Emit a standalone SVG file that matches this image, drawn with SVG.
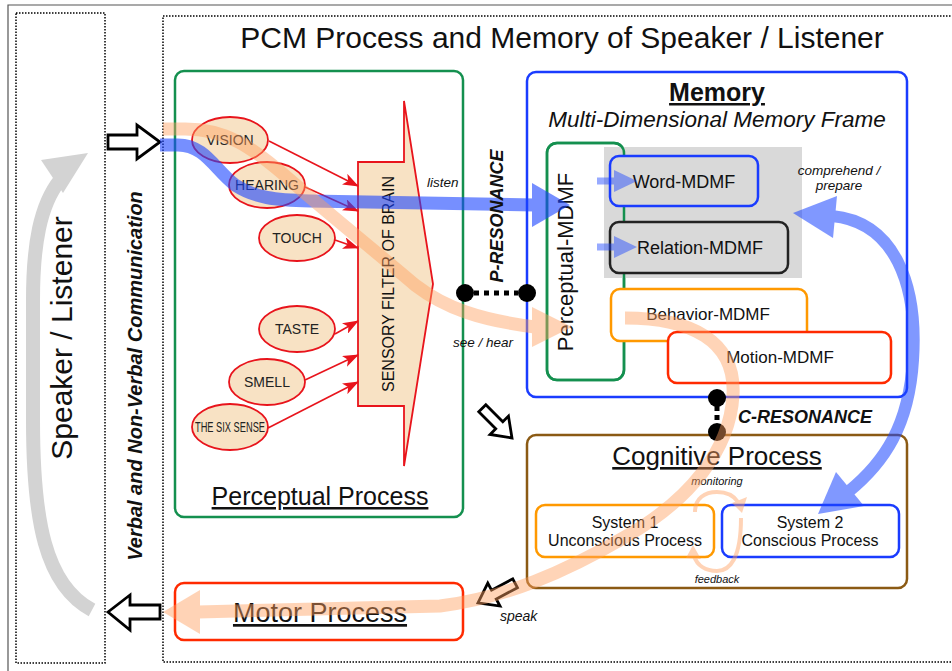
<svg xmlns="http://www.w3.org/2000/svg" width="952" height="671" viewBox="0 0 952 671">
<defs>
<style>
text{font-family:"Liberation Sans",Arial,sans-serif;fill:#111}
.box{fill:#fff;stroke-width:2.5}
.ell{fill:#f8e2c4;stroke:#e8141c;stroke-width:1.8}
.et{font-size:14px;text-anchor:middle;fill:#222}
.it{font-style:italic}
.red{stroke:#e8141c;stroke-width:1.6;fill:none;marker-end:url(#rh)}
.open{fill:#fff;stroke:#000;stroke-width:2.8;stroke-linejoin:miter}
.dotted{fill:none;stroke:#000;stroke-width:1.5;stroke-dasharray:1.5,1.5}
</style>
<marker id="rh" markerUnits="userSpaceOnUse" markerWidth="16" markerHeight="12" refX="15" refY="6" orient="auto">
<path d="M0,0 L16,6 L0,12 L4,6 z" fill="#e8141c"/>
</marker>
</defs>
<rect width="952" height="671" fill="#fff"/>
<!-- outer frame -->
<path d="M8,671 L8,5 L952,5" fill="none" stroke="#555" stroke-width="1.2"/>
<rect class="dotted" x="16" y="13" width="89" height="650"/>
<rect class="dotted" x="163" y="16" width="800" height="646"/>

<text x="562" y="48" font-size="30" text-anchor="middle">PCM Process and Memory of Speaker / Listener</text>

<!-- left side -->
<g id="speaker-listener">
<g fill="#d3d3d3">
<path d="M92,610 C 45,585 33,520 33,420 L 33,300 C 33,245 40,205 60,180" fill="none" stroke="#d3d3d3" stroke-width="14"/>
<polygon points="88,153 41,160 63,193"/>
</g>
<text transform="translate(72,338) rotate(-90)" font-size="30" text-anchor="middle">Speaker / Listener</text>
</g>
<text id="comm-label" transform="translate(142,376) rotate(-90)" font-size="20" font-weight="bold" font-style="italic" text-anchor="middle">Verbal and Non-Verbal Communication</text>

<!-- Perceptual process -->
<g id="perceptual-process">
<rect class="box" x="175" y="71" width="288" height="446" rx="9" stroke="#14904f"/>
<text x="320" y="505" font-size="25" text-anchor="middle" text-decoration="underline">Perceptual Process</text>
</g>
<g id="sensory-filter">
<polygon points="358,162 404,162 404,101 433,284 404,466 404,406 358,406" fill="#f8e2c4" stroke="#e8141c" stroke-width="1.8"/>
<text transform="translate(394,284) rotate(-90)" font-size="16" text-anchor="middle" fill="#222">SENSORY FILTER OF BRAIN</text>
</g>
<g id="vision"><ellipse class="ell" cx="230" cy="140" rx="38" ry="23"/><text class="et" x="230" y="145">VISION</text></g>
<g id="hearing"><ellipse class="ell" cx="267" cy="185" rx="38" ry="23"/><text class="et" x="267" y="190">HEARING</text></g>
<g id="touch"><ellipse class="ell" cx="297" cy="238" rx="38" ry="23"/><text class="et" x="297" y="243">TOUCH</text></g>
<g id="taste"><ellipse class="ell" cx="297" cy="329" rx="38" ry="23"/><text class="et" x="297" y="334">TASTE</text></g>
<g id="smell"><ellipse class="ell" cx="267" cy="382" rx="38" ry="23"/><text class="et" x="267" y="387">SMELL</text></g>
<g id="sixsense"><ellipse class="ell" cx="230" cy="427" rx="38" ry="23"/><text class="et" x="230" y="432" textLength="70" lengthAdjust="spacingAndGlyphs">THE SIX SENSE</text></g>

<!-- Memory -->
<g id="memory">
<rect class="box" x="527" y="72" width="380" height="325" rx="9" stroke="#1a3cff"/>
<text x="717" y="101" font-size="25" font-weight="bold" text-anchor="middle" text-decoration="underline">Memory</text>
<text x="717" y="127" font-size="22.5" font-style="italic" text-anchor="middle">Multi-Dimensional Memory Frame</text>
</g>
<g id="perceptual-mdmf">
<rect x="547" y="143" width="77" height="237" rx="10" fill="#fff" stroke="#14904f" stroke-width="2.5"/>
<rect id="gray-area" x="604" y="147" width="198" height="131" fill="#d9d9d9"/>
<rect x="547" y="143" width="77" height="237" rx="10" fill="none" stroke="#14904f" stroke-width="2.5"/>
<text transform="translate(573,262) rotate(-90)" font-size="22" text-anchor="middle">Perceptual-MDMF</text>
</g>
<g id="word-mdmf">
<rect x="610" y="156" width="148" height="50" rx="9" fill="#d9d9d9" stroke="#1a3cff" stroke-width="2.5"/>
<text x="684" y="188" font-size="18" text-anchor="middle">Word-MDMF</text>
</g>
<g id="relation-mdmf">
<rect x="610" y="222" width="178" height="51" rx="9" fill="#d9d9d9" stroke="#222" stroke-width="2.5"/>
<text x="700" y="254" font-size="18" text-anchor="middle">Relation-MDMF</text>
</g>
<g id="behavior-mdmf">
<rect class="box" x="611" y="289" width="196" height="52" rx="9" stroke="#ff9900"/>
<text x="708" y="320" font-size="17" text-anchor="middle">Behavior-MDMF</text>
</g>
<g id="motion-mdmf">
<rect class="box" x="668" y="332" width="223" height="51" rx="9" stroke="#ff2a00"/>
<text x="780" y="363" font-size="17" text-anchor="middle">Motion-MDMF</text>
</g>
<text x="839" y="175" font-size="13.5" class="it" text-anchor="middle">comprehend /</text>
<text x="839" y="190" font-size="13.5" class="it" text-anchor="middle">prepare</text>

<!-- Cognitive -->
<g id="cognitive-process">
<rect class="box" x="527" y="435" width="380" height="153" rx="9" stroke="#8b5a14"/>
<text x="717" y="465" font-size="26" text-anchor="middle" text-decoration="underline">Cognitive Process</text>
<text x="717" y="485" font-size="11" class="it" text-anchor="middle">monitoring</text>
<text x="717" y="583" font-size="11" class="it" text-anchor="middle">feedback</text>
</g>
<g id="system1">
<rect class="box" x="536" y="505" width="178" height="52" rx="9" stroke="#ff9900"/>
<text x="625" y="528" font-size="16" text-anchor="middle">System 1</text>
<text x="625" y="546" font-size="16" text-anchor="middle">Unconscious Process</text>
</g>
<g id="system2">
<rect class="box" x="722" y="505" width="177" height="52" rx="9" stroke="#1a3cff"/>
<text x="810" y="528" font-size="16" text-anchor="middle">System 2</text>
<text x="810" y="546" font-size="16" text-anchor="middle">Conscious Process</text>
</g>

<!-- Motor -->
<g id="motor-process">
<rect class="box" x="175" y="583" width="288" height="57" rx="9" stroke="#ff2a00"/>
<text x="320" y="622" font-size="27" text-anchor="middle" text-decoration="underline">Motor Process</text>
</g>

<!-- connectors -->
<g id="connectors">
<polygon class="open" points="108,135 137,135 137,125 160,142 137,159 137,149 108,149"/>
<polygon class="open" points="108,612 130,595 130,605 160,605 160,619 130,619 130,630"/>
<polygon class="open" transform="translate(512,438) rotate(45)" points="-42,-5 -18,-5 -18,-13 0,0 -18,13 -18,5 -42,5"/>
<polygon class="open" transform="translate(478,603) rotate(152)" points="-42,-5 -18,-5 -18,-13 0,0 -18,13 -18,5 -42,5"/>

<path class="red" d="M269,141 L358,186"/>
<path class="red" d="M305,187 L358,211"/>
<path class="red" d="M335,240 L358,248"/>
<path class="red" d="M335,334 L358,321"/>
<path class="red" d="M305,380 L358,355"/>
<path class="red" d="M268,428 L358,382"/>

<!-- P-resonance -->
<line x1="474" y1="293" x2="518" y2="293" stroke="#000" stroke-width="5" stroke-dasharray="5,5"/>
<circle cx="465" cy="293" r="9" fill="#000"/>
<circle cx="527" cy="293" r="9" fill="#000"/>
<!-- C-resonance -->
<line x1="717" y1="406" x2="717" y2="424" stroke="#000" stroke-width="5" stroke-dasharray="5,4"/>
<circle cx="717" cy="398" r="9" fill="#000"/>
<circle cx="717" cy="432" r="9" fill="#000"/>

<!-- blue flows -->
<g opacity="0.6" fill="#1a44ff">
<path d="M160,145 L178,145 C 205,145 215,170 235,185 C 255,198 275,200 310,201 L 535,205" fill="none" stroke="#1a44ff" stroke-width="13"/>
<polygon points="532,183 570,205 532,227"/>
</g>
<g opacity="0.45" fill="#1a44ff">
<path d="M597,181 L616,181" stroke="#1a44ff" stroke-width="7"/>
<polygon points="614,170 637,181 614,192"/>
<path d="M597,247 L616,247" stroke="#1a44ff" stroke-width="7"/>
<polygon points="614,236 637,247 614,258"/>
</g>
<g opacity="0.55" fill="#1a44ff">
<path d="M832,216 C 895,222 918,285 913,360 C 909,425 885,462 848,492" fill="none" stroke="#1a44ff" stroke-width="12"/>
<polygon points="793,213 837,196 833,238"/>
<polygon points="818,514 836,472 864,506"/>
</g>
<!-- orange flows -->
<g opacity="0.45" fill="#ffa060">
<path d="M163,129 L185,129 C 225,129 250,145 290,180 C 330,215 380,255 415,285 C 445,308 480,320 535,327" fill="none" stroke="#ffa060" stroke-width="13"/>
<polygon points="532,307 572,327 532,347"/>
</g>
<g opacity="0.45" fill="#ffa060">
<path d="M625,318 C 690,318 736,340 733,395 C 730,450 690,500 625,537 C 565,572 505,598 440,606 L 198,612" fill="none" stroke="#ffa060" stroke-width="13"/>
<polygon points="200,590 163,612 200,634"/>
</g>
<g opacity="0.45" fill="#ffa060">
<path d="M695,512 C 695,498 705,492 717,492 C 727,492 734,496 738,502" fill="none" stroke="#ffa060" stroke-width="4"/>
<polygon points="742,513 732,503 747,497"/>
<path d="M741,518 C 741,558 730,571 717,571 C 705,571 697,565 694,556" fill="none" stroke="#ffa060" stroke-width="4"/>
<polygon points="693,545 686,558 701,559"/>
</g>
</g>

<!-- connector labels -->
<text x="427" y="187" font-size="13.5" class="it">listen</text>
<text x="453" y="347" font-size="13.5" class="it">see / hear</text>
<text transform="translate(503,216) rotate(-90)" font-size="18" font-weight="bold" font-style="italic" text-anchor="middle">P-RESONANCE</text>
<text x="738" y="423" font-size="18" font-weight="bold" font-style="italic">C-RESONANCE</text>
<text x="500" y="621" font-size="14" class="it">speak</text>
</svg>
